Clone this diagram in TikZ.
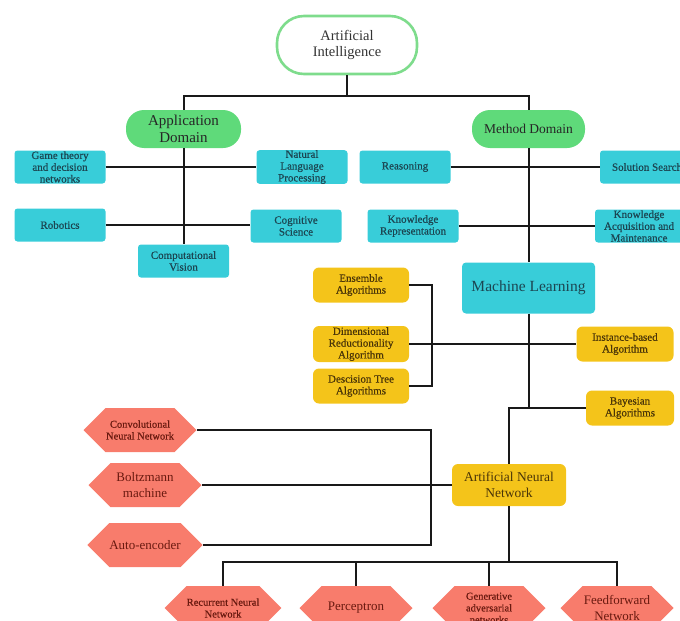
\documentclass[tikz,border=0pt]{standalone}
\usepackage{fontspec}
\setmainfont{Liberation Serif}
\newfontfamily\labelfont{Liberation Serif}[FakeBold=0.6]
\usetikzlibrary{shapes.symbols}

\definecolor{ringgreen}{HTML}{7EDC8C}
\definecolor{domgreen}{HTML}{5FDA7A}
\definecolor{tealbox}{HTML}{38CDD9}
\definecolor{tealtext}{HTML}{1C4652}
\definecolor{goldbox}{HTML}{F4C41A}
\definecolor{goldtext}{HTML}{4A3508}
\definecolor{salmon}{HTML}{F87C6C}
\definecolor{salmontext}{HTML}{6A1A10}
\definecolor{graytext}{HTML}{333333}

\newcommand{\fs}[2]{\fontsize{#1}{#2}\selectfont}

\tikzset{
  link/.style={draw=black!90, line width=2pt},
  rootbox/.style={rectangle, rounded corners=27pt, draw=ringgreen, line width=2.6pt,
    fill=white, text=graytext, minimum width=140pt, minimum height=58pt,
    inner sep=0pt, align=center, font=\fs{14.5}{16.5}},
  domainbox/.style={rectangle, rounded corners=18pt, fill=domgreen, text=black!85,
    minimum height=38pt, inner sep=0pt, align=center},
  tealcell/.style={rectangle, rounded corners=3pt, fill=tealbox, text=tealtext,
    minimum width=91pt, minimum height=33pt, inner sep=0pt, align=center,
    font=\labelfont\fs{11}{11.8}},
  goldcell/.style={rectangle, rounded corners=6pt, fill=goldbox, text=goldtext,
    minimum width=96pt, minimum height=35pt, inner sep=0pt, align=center,
    font=\labelfont\fs{11}{11.8}},
  hexcell/.style={signal, signal to=east and west, signal pointer angle=90,
    fill=salmon, text=salmontext, minimum width=113pt, minimum height=44pt,
    inner sep=0pt, align=center, font=\labelfont\fs{10.5}{11.8}},
  hexbig/.style={font=\fs{13}{16}},
}

\begin{document}
\begin{tikzpicture}[x=1pt, y=-1pt]
\useasboundingbox (0,0) rectangle (680,621);
\clip (0,0) rectangle (680,621);

% root and the two domains
\node[rootbox] (ai) at (347,45) {Artificial\\Intelligence};
\node[domainbox, minimum width=115pt, font=\fs{15}{17}] (app) at (183.5,129) {Application\\Domain};
\node[domainbox, minimum width=113pt, font=\fs{13.5}{15}] (meth) at (528.5,129) {Method Domain};

% application domain
\node[tealcell] (game) at (60,167) {Game theory\\and decision\\networks};
\node[tealcell] (nlp) at (302,167) {Natural\\Language\\Processing};
\node[tealcell] (robot) at (60,225) {Robotics};
\node[tealcell] (cog) at (296,226) {Cognitive\\Science};
\node[tealcell] (cv) at (183.5,261) {Computational\\Vision};

% method domain
\node[tealcell] (reas) at (405,167) {Reasoning};
\node[tealcell, minimum width=94pt] (sol) at (647,167) {Solution Search};
\node[tealcell] (krep) at (413,226) {Knowledge\\Representation};
\node[tealcell, minimum width=88pt] (kacq) at (639,226) {Knowledge\\Acquisition and\\Maintenance};
\node[tealcell, rounded corners=4pt, minimum width=133pt, minimum height=51pt,
      font=\fs{15.5}{17}] (ml) at (528.5,288) {Machine Learning};

% machine learning families
\node[goldcell] (ens) at (361,285) {Ensemble\\Algorithms};
\node[goldcell, minimum height=36pt] (dim) at (361,344) {Dimensional\\Reductionality\\Algorithm};
\node[goldcell] (dtree) at (361,386) {Descision Tree\\Algorithms};
\node[goldcell, minimum width=97pt] (inst) at (625,344) {Instance-based\\Algorithm};
\node[goldcell, minimum width=88pt] (bay) at (630,408) {Bayesian\\Algorithms};
\node[goldcell, minimum width=114pt, minimum height=42pt, font=\fs{13.5}{16}] (ann) at (509,485) {Artificial Neural\\Network};

% neural network kinds
\node[hexcell] (cnn) at (140,430) {Convolutional\\Neural Network};
\node[hexcell, hexbig] (boltz) at (145,485) {Boltzmann\\machine};
\node[hexcell, hexbig] (auto) at (145,545) {Auto-encoder};
\node[hexcell] (rnn) at (223,608) {Recurrent Neural\\Network};
\node[hexcell, hexbig] (perc) at (356,608) {Perceptron};
\node[hexcell] (gan) at (489,608) {Generative\\adversarial\\networks};
\node[hexcell, hexbig] (ffn) at (617,608) {Feedforward\\Network};

% junction points
\coordinate (aibus) at (347,96);
\coordinate (fambr) at (432,340);
\coordinate (hexbr) at (431,490);
\coordinate (annbus) at (509,562);

% connectors
\path[link] (ai.south) -- (aibus);
\path[link] (app.north) |- (aibus) -| (meth.north);
\path[link] (app.south) -- (cv.north);
\path[link] (game.east) -- (nlp.west);
\path[link] (robot.east) -- (robot.east -| cog.west);
\path[link] (meth.south) -- (ml.north);
\path[link] (reas.east) -- (sol.west);
\path[link] (krep.east) -- (kacq.west);
\path[link] (ens.east) -| (fambr) |- (dtree.east);
\path[link] (dim.east) -- (inst.west);
\path[link] (ml.south) -- (ml.south |- bay.west);
\path[link] (bay.west) -| (ann.north);
\path[link] (cnn.east) -| (hexbr) |- (auto.east);
\path[link] (boltz.east) -- (ann.west);
\path[link] (ann.south) -- (annbus);
\path[link] (rnn.north) |- (annbus) -| (ffn.north);
\path[link] (perc.north) -- (perc.north |- annbus);
\path[link] (gan.north) -- (gan.north |- annbus);
\end{tikzpicture}
\end{document}
